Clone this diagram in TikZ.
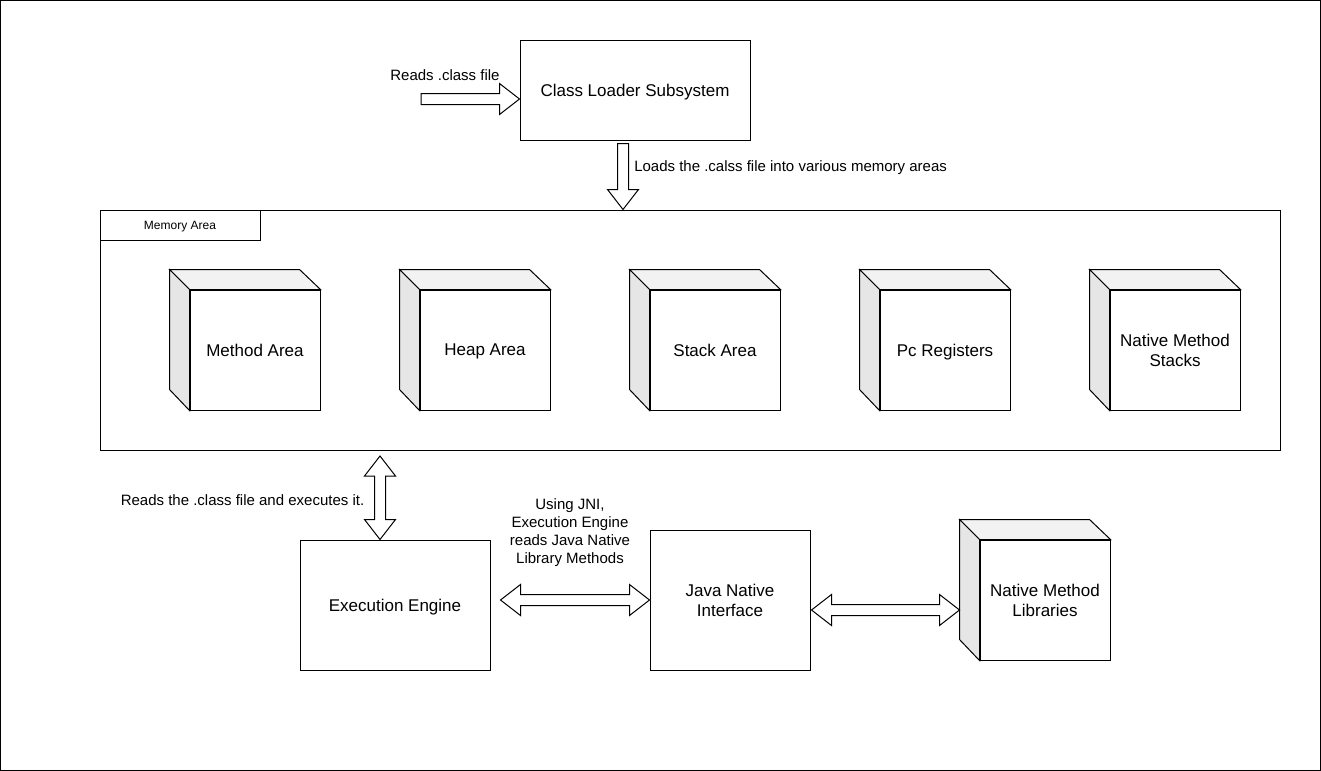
\documentclass[tikz,border=0pt]{standalone}
\usepackage{fontspec}
\setmainfont{Liberation Sans}
\usetikzlibrary{calc}

\definecolor{cubetop}{HTML}{F2F2F2}
\definecolor{cubeside}{HTML}{E6E6E6}

% front face of a 3D box plus its top and left faces
\newcommand\cubebox[3]{%
  \node[box, minimum width=97.5pt, minimum height=90pt] (#1) at (#2) {#3};
  \draw[edge, fill=cubetop] (#1.north west) -- ++(-20,-20) -- ++(130,0) -- (#1.north east) -- cycle;
  \draw[edge, fill=cubeside] (#1.north west) -- ++(-20,-20) -- ++(0,120) -- (#1.south west) -- cycle;
}

% hollow block arrow with one head, from #1 to #2
\newcommand\singlearrow[2]{%
  \path ($(#2)!15pt!(#1)$) coordinate (hb);
  \draw[blockarrow] ($(#1)!4.125pt!-90:(#2)$) -- ($(hb)!4.125pt!90:(#1)$)
    -- ($(hb)!11.625pt!90:(#1)$) -- (#2) -- ($(hb)!11.625pt!-90:(#1)$)
    -- ($(hb)!4.125pt!-90:(#1)$) -- ($(#1)!4.125pt!90:(#2)$) -- cycle;
}

% hollow block arrow with heads at both ends
\newcommand\doublearrow[2]{%
  \path ($(#1)!15pt!(#2)$) coordinate (ha) ($(#2)!15pt!(#1)$) coordinate (hb);
  \draw[blockarrow] (#1) -- ($(ha)!11.625pt!-90:(#2)$) -- ($(ha)!4.125pt!-90:(#2)$)
    -- ($(hb)!4.125pt!90:(#1)$) -- ($(hb)!11.625pt!90:(#1)$) -- (#2)
    -- ($(hb)!11.625pt!-90:(#1)$) -- ($(hb)!4.125pt!-90:(#1)$)
    -- ($(ha)!4.125pt!90:(#2)$) -- ($(ha)!11.625pt!90:(#2)$) -- cycle;
}

\begin{document}
\begin{tikzpicture}[x=0.75pt, y=-0.75pt,
  edge/.style={draw, line width=0.75pt, line join=miter},
  box/.style={edge, fill=white, inner sep=0pt, align=center, text depth=0pt,
    font=\fontsize{12.75}{15}\selectfont},
  lbl/.style={inner sep=0pt, align=center, text depth=0pt,
    font=\fontsize{11.25}{13.5}\selectfont},
  blockarrow/.style={draw, line width=0.75pt, fill=white, line join=miter},
]
\useasboundingbox (0,0) rectangle (1321,771);
\draw[line width=0.75pt] (0.5,0.5) rectangle (1320.5,770.5);

% class loader
\node[box, minimum width=172.5pt, minimum height=75pt] (cls) at (635,90) {Class Loader Subsystem};
\node[lbl] (rdlbl) at (445,75) {Reads .class file};
\coordinate (rdtail) at (421,99);
\coordinate (rdtip) at (cls.west |- rdtail);
\singlearrow{rdtail}{rdtip}

% memory area frame with its tab
\node[box, minimum width=885pt, minimum height=180pt] (mem) at (690,330) {};
\node[box, minimum width=120pt, minimum height=22.5pt,
  font=\fontsize{9}{11}\selectfont] (memtab) at (180,225) {Memory Area};

\coordinate (ldtail) at ($(cls.south)+(-12,3)$);
\coordinate (ldtip) at (ldtail |- mem.north);
\singlearrow{ldtail}{ldtip}
\node[lbl, anchor=west] (ldlbl) at (634,166) {Loads the .calss file into various memory areas};

% runtime data areas
\cubebox{meth}{255,350}{Method Area}
\cubebox{heap}{485,350}{Heap Area}
\cubebox{stack}{715,350}{Stack Area}
\cubebox{pc}{945,350}{Pc Registers}
\cubebox{nms}{1175,350}{Native Method\\Stacks}

% execution side
\node[box, minimum width=142.5pt, minimum height=97.5pt] (ee) at (395,605) {Execution Engine};
\node[box, minimum width=120pt, minimum height=105pt] (jni) at (730,600) {Java Native\\Interface};
\cubebox{lib}{1045,600}{Native Method\\Libraries}

\coordinate (vtop) at (380,456);
\coordinate (vbot) at (vtop |- ee.north);
\doublearrow{vtop}{vbot}
\node[lbl] (exlbl) at (242.5,500) {Reads the .class file and executes it.};

\coordinate (h1a) at ($(ee.east)+(10,-5)$);
\doublearrow{h1a}{jni.west}
\node[lbl] (jnilbl) at (570,531) {Using JNI,\\Execution Engine\\reads Java Native\\Library Methods};

\coordinate (h2a) at ($(jni.east)+(1,10)$);
\coordinate (h2b) at ($(lib.west)+(-20,10)$);
\doublearrow{h2a}{h2b}
\end{tikzpicture}
\end{document}
